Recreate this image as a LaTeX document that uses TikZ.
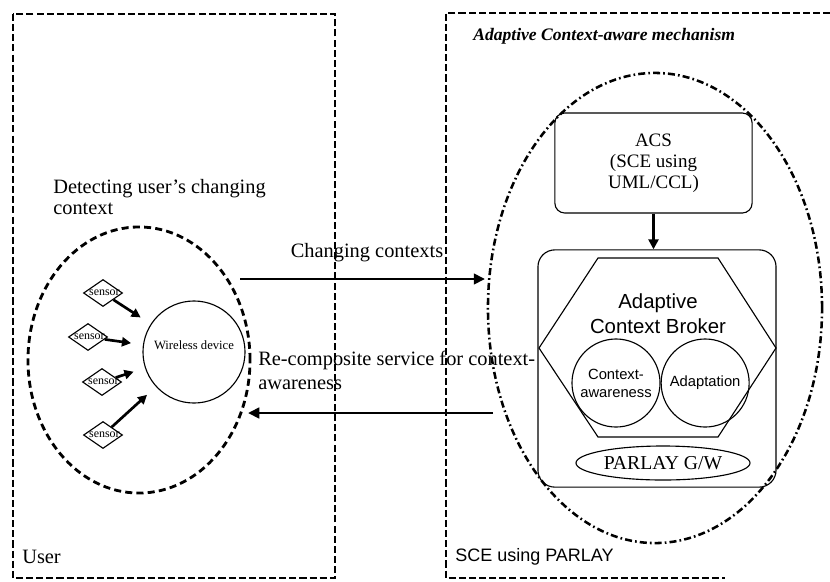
\documentclass[tikz,border=0pt]{standalone}
\usepackage{fontspec}
\setmainfont{Liberation Serif}
\setsansfont{Liberation Sans}
\usepackage{tikz}
\usetikzlibrary{shapes,arrows,positioning,calc,arrows.meta}

\tikzset{
  zone/.style={line width=1.7pt, dash pattern=on 5pt off 2.2pt},
  part/.style={draw, line width=0.8pt},
  sensorbox/.style={part, shape=diamond, inner sep=0pt, minimum width=0.975cm, minimum height=0.675cm},
  sensorarrow/.style={-{Triangle[length=6.5pt,width=6.5pt]}, line width=1.9pt, shorten >=8.5pt},
  flow/.style={-{Triangle[length=8pt,width=7.5pt]}, line width=2pt},
  bigtext/.style={font=\fontsize{14.5}{15.6}\selectfont}
}

\begin{document}
\begin{tikzpicture}[x=0.025cm, y=-0.025cm]
  \useasboundingbox (0,0) rectangle (830,581);

  % User side
  \draw[zone] (13,14) rectangle (335,578);
  \node[anchor=west, inner sep=0pt, bigtext] (user) at (22,557) {User};
  \node[anchor=west, align=left, inner sep=0pt, bigtext] (detect) at (53,197) {Detecting user's changing\\context};
  \node[draw, ellipse, line width=2pt, dash pattern=on 5pt off 3pt, minimum width=5.55cm, minimum height=6.65cm] (userzone) at (139,360) {};

  % Device and sensors
  \node[part, circle, minimum size=2.55cm, inner sep=0pt,
    label={[font=\fontsize{9}{10}\selectfont, yshift=5pt]center:Wireless device}] (device) at (194,352) {};
  \foreach \i/\x/\y in {1/103/293, 2/88/337, 3/102/382, 4/103/435}
    \node[sensorbox, label={[font=\fontsize{8.5}{9}\selectfont, xshift=1pt]center:sensor}] (s\i) at (\x,\y) {};
  \foreach \i in {1,...,4}
    \draw[sensorarrow] (s\i) -- (device);

  % SCE side
  \draw[zone] (830,13) -| (446,578) -- (725,578);
  \node[anchor=west, inner sep=0pt, font=\sffamily\fontsize{12.8}{14}\selectfont] (sce) at (455,557) {SCE using PARLAY};
  \node[anchor=west, inner sep=0pt, font=\bfseries\itshape\fontsize{12.5}{14}\selectfont] (mech) at (473,36) {Adaptive Context-aware mechanism};
  \node[draw, ellipse, line width=1.8pt, dash pattern=on 5pt off 2.2pt on 1.2pt off 2.2pt, minimum width=8.35cm, minimum height=11.75cm] (scezone) at (655,308) {};

  % ACS and broker
  \node[part, rounded corners=7pt, minimum width=4.93cm, minimum height=2.5cm, align=center, font=\fontsize{13.5}{15}\selectfont] (acs) at (653.5,163) {ACS\\(SCE using\\UML/CCL)};
  \node[part, rounded corners=12pt, minimum width=5.95cm, minimum height=5.93cm] (broker) at (657,368.5) {};
  \draw[-{Triangle[length=7pt,width=7pt]}, line width=1.7pt] (acs.south) -- (acs.south |- broker.north);
  \draw[line width=0.8pt] (539,348) -- (598,258) -- (718,258) -- (776,348) -- (718,437) -- (598,437) -- cycle;
  \node[align=center, font=\sffamily\fontsize{14.5}{17.8}\selectfont] (acb) at (658,314) {Adaptive\\Context Broker};
  \node[part, circle, minimum size=2.2cm, inner sep=0pt, align=center, font=\sffamily\fontsize{10.5}{12.8}\selectfont] (aware) at (616,383) {Context-\\awareness};
  \node[part, circle, minimum size=2.2cm, inner sep=0pt, font=\sffamily\fontsize{10.5}{12.8}\selectfont, right=0pt of aware] (adapt) {Adaptation};
  \node[part, ellipse, minimum width=4.35cm, minimum height=0.85cm, inner sep=0pt, font=\fontsize{14}{16}\selectfont] (gw) at (663,463) {PARLAY G/W};

  % Arrows between the two sides
  \coordinate (ctxout) at (240,279);
  \coordinate (ctxin) at (485,279);
  \coordinate (svcout) at (493,413);
  \coordinate (svcin) at (248,413);
  \draw[flow] (ctxout) -- (ctxin);
  \draw[flow] (svcout) -- (svcin);
  \node[bigtext] (ctxlabel) at (367,253) {Changing contexts};
  \node[anchor=west, align=left, inner sep=0pt, font=\fontsize{14.5}{17}\selectfont] (svclabel) at (258,370) {Re-composite service for context-\\awareness};
\end{tikzpicture}
\end{document}
